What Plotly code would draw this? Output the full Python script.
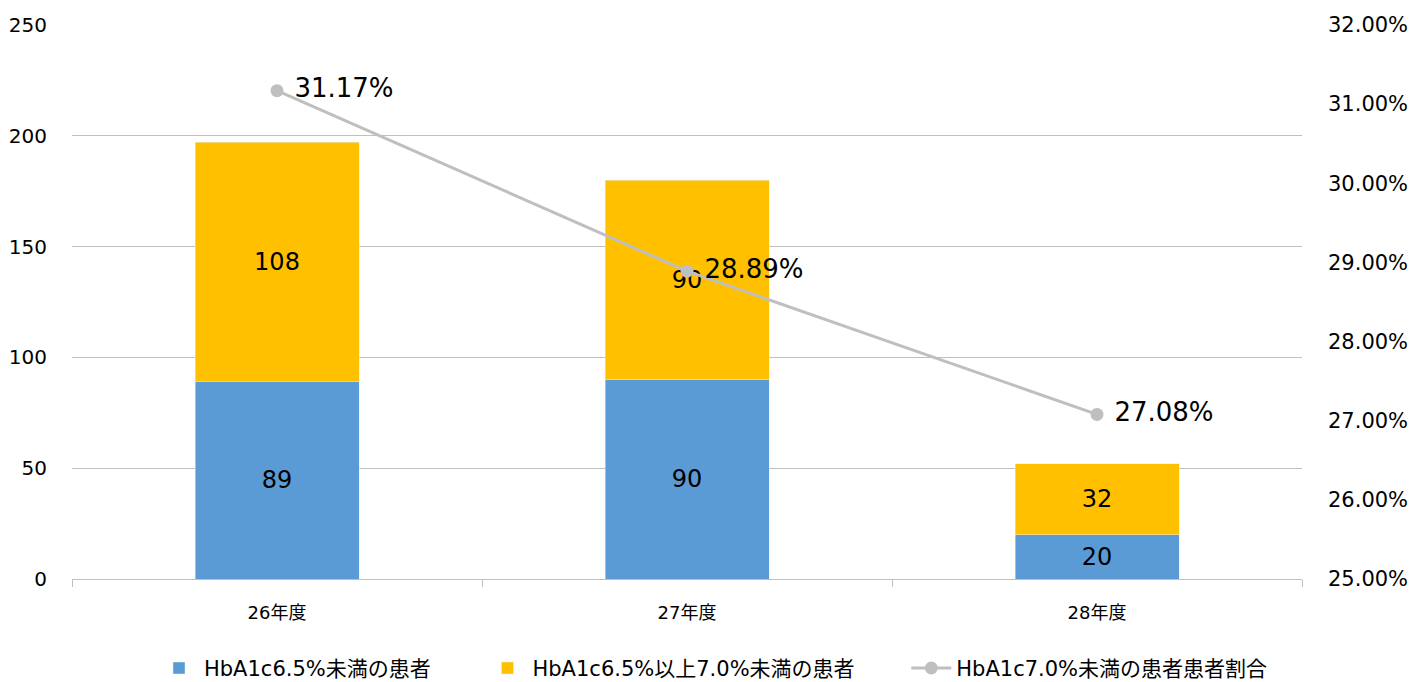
import plotly.graph_objects as go

categories = ["26年度", "27年度", "28年度"]
below65 = [89, 90, 20]
between65_70 = [108, 90, 32]
ratio = [0.3117, 0.2889, 0.2708]

name1 = "HbA1c6.5%未満の患者"
name2 = "HbA1c6.5%以上7.0%未満の患者"
name3 = "HbA1c7.0%未満の患者患者割合"

FONT = "Verdana, 'DejaVu Sans', 'Noto Sans CJK JP', sans-serif"
PAD = "\u00a0" * 7

fig = go.Figure()
fig.add_trace(go.Bar(
    x=categories, y=below65, name=name1 + PAD, marker_color="#5B9BD5",
    text=below65, textposition="inside", insidetextanchor="middle",
    textfont=dict(size=24, color="#000000"), width=0.4,
))
fig.add_trace(go.Bar(
    x=categories, y=between65_70, name=name2 + PAD, marker_color="#FFC000",
    text=between65_70, textposition="inside", insidetextanchor="middle",
    textfont=dict(size=24, color="#000000"), width=0.4,
))
fig.add_trace(go.Scatter(
    x=categories, y=ratio, name=name3, yaxis="y2", mode="lines+markers+text",
    line=dict(color="#BFBFBF", width=3), marker=dict(size=13, color="#BFBFBF"),
    text=["\u00a0" + f"{v*100:.2f}%" for v in ratio], textposition="middle right",
    textfont=dict(size=26, color="#000000"),
))

fig.update_layout(
    barmode="stack",
    width=1427, height=682,
    margin=dict(l=72, r=125, t=25, b=103, autoexpand=False),
    paper_bgcolor="white", plot_bgcolor="white",
    font=dict(family=FONT, size=18, color="#000000"),
    xaxis=dict(
        showline=True, linecolor="#BFBFBF", linewidth=1,
        ticks="outside", tickson="boundaries", ticklen=7, tickcolor="#BFBFBF",
        tickfont=dict(size=18), ticklabelstandoff=17, automargin=False,
    ),
    yaxis=dict(
        range=[0, 250], dtick=50, showgrid=True, gridcolor="#BFBFBF", gridwidth=1,
        zeroline=False, showline=False, tickfont=dict(size=20), ticklabelstandoff=24,
        automargin=False,
    ),
    yaxis2=dict(
        range=[0.25, 0.32], dtick=0.01, overlaying="y", side="right",
        tickformat=".2%", showgrid=False, zeroline=False, showline=False,
        tickfont=dict(size=21), ticklabelstandoff=25, automargin=False,
    ),
    legend=dict(
        orientation="h", xref="container", yref="container",
        x=0.5, xanchor="center", y=0.02, yanchor="middle",
        font=dict(size=21), itemwidth=40, traceorder="normal",
    ),
    showlegend=True,
)

fig.write_html("out.html")
